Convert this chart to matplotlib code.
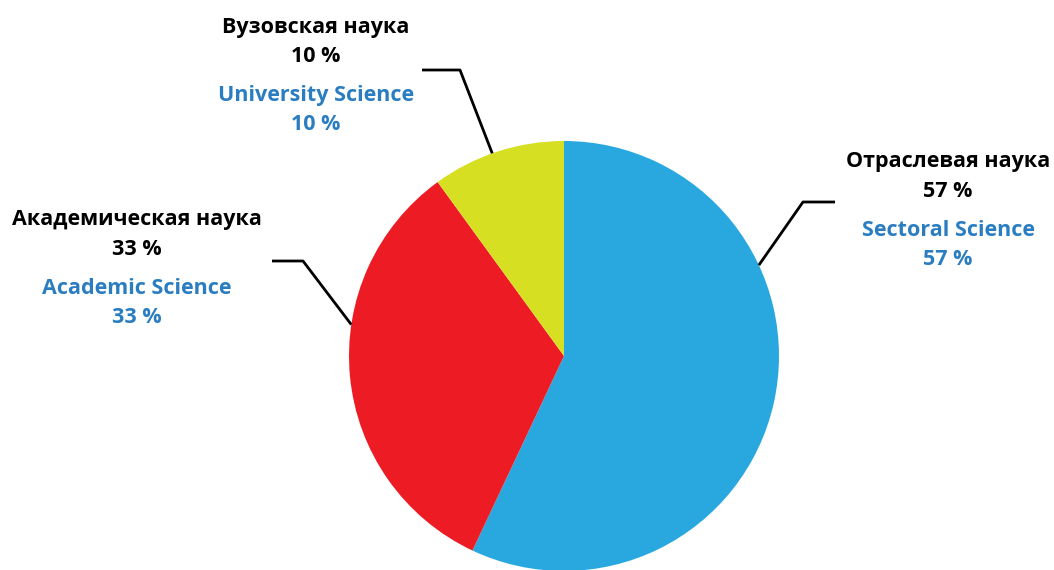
import matplotlib
matplotlib.use("Agg")
import matplotlib.pyplot as plt
import numpy as np

# data
labels_ru = ["Отраслевая наука", "Академическая наука", "Вузовская наука"]
labels_en = ["Sectoral Science", "Academic Science", "University Science"]
shares = [57, 33, 10]
colors = ["#29A8E0", "#ED1C24", "#D7DF23"]

# layout (pixels, y measured from the top of the picture)
W, H = 1054, 570
cx, cy, r = 564, 356, 215
anchor_deg = [25, 171.6, 109.5]          # where each leader line touches the pie
elbows = [(803, 202), (303, 261), (460, 70)]
line_ends = [(835, 202), (272, 261), (422, 70)]
text_pos = [(948, 162), (137, 220), (316, 27)]
line_offsets = [0, 29.5, 68, 97.5]

plt.rcParams['font.family'] = ['Open Sans', 'DejaVu Sans']

fig = plt.figure(figsize=(W / 100, H / 100), dpi=100)
ax = fig.add_axes([0, 0, 1, 1])

ax.pie(shares, colors=colors, startangle=90, counterclock=False,
       center=(cx, H - cy), radius=r, wedgeprops=dict(linewidth=0),
       frame=True)
ax.set_xlim(0, W)
ax.set_ylim(0, H)
ax.set_aspect('equal')
ax.axis('off')

for i in range(len(shares)):
    a = np.deg2rad(anchor_deg[i])
    x0 = cx + r * np.cos(a)
    y0 = cy - r * np.sin(a)
    xs = [x0, elbows[i][0], line_ends[i][0]]
    ys = [H - y0, H - elbows[i][1], H - line_ends[i][1]]
    ax.plot(xs, ys, color="black", lw=2, solid_capstyle='butt')

    tx, ty = text_pos[i]
    lines = [(labels_ru[i], 'black'), (f"{shares[i]} %", 'black'),
             (labels_en[i], '#2A7DC1'), (f"{shares[i]} %", '#2A7DC1')]
    for (txt, col), off in zip(lines, line_offsets):
        ax.text(tx, H - ty - off, txt, color=col, ha='center', va='center',
                fontsize=15.5, fontweight='bold')

fig.savefig("out.png", dpi=100)
